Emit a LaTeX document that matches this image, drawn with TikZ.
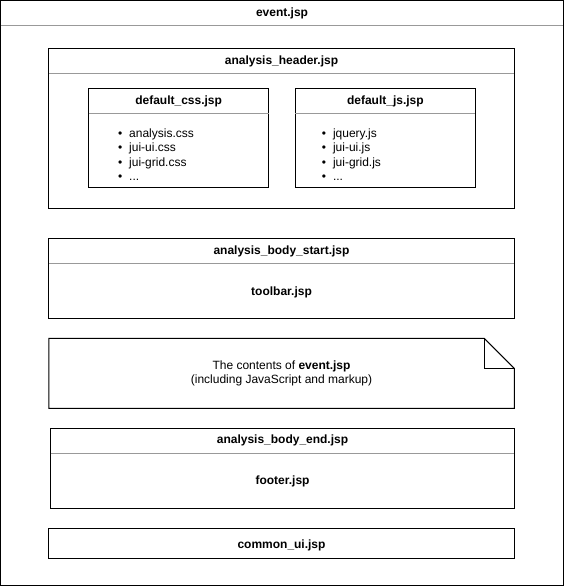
\documentclass[tikz,border=0pt]{standalone}
\usepackage{fontspec}
\setmainfont{Liberation Sans}
\tikzset{every picture/.style={line width=0.75pt}}
\tikzset{
  jspbox/.style={draw, rectangle, inner sep=0pt, outer sep=0pt, anchor=north west},
  jsptitle/.style={inner sep=0.75pt, font=\bfseries},
  divider/.style={draw={rgb, 255:red, 153; green, 153; blue, 153}},
  filelist/.style={inner sep=0pt, anchor=base west, align=left}
}
\newcommand{\jspitem}[1]{\makebox[8.3pt][l]{\textbullet}#1}

\begin{document}
\begin{tikzpicture}[x=0.75pt,y=0.75pt,yscale=-1,xscale=1]
    \fontsize{9pt}{10.9pt}\selectfont
    \useasboundingbox (-0.8,-0.8) rectangle (563.8,585.8);

    %Outer page [id:event]
    \node [jspbox, minimum width=422.25pt, minimum height=438.75pt] (event) at (0,0) {};
    \draw [divider] ([yshift=18.75pt]event.north west) -- ([yshift=18.75pt]event.north east) ;
    \node [jsptitle] (eventtitle) at ([yshift=9.4pt]event.north) {event.jsp};

    %Header include [id:header]
    \node [jspbox, minimum width=349.5pt, minimum height=120pt] (header) at (48,48) {};
    \draw [divider] ([yshift=18.75pt]header.north west) -- ([yshift=18.75pt]header.north east) ;
    \node [jsptitle] (headertitle) at ([yshift=9.4pt]header.north) {analysis\_header.jsp};

    %CSS include [id:css]
    \node [jspbox, minimum width=135pt, minimum height=74.25pt] (css) at (88,88) {};
    \draw [divider] ([yshift=18.75pt]css.north west) -- ([yshift=18.75pt]css.north east) ;
    \node [jsptitle] (csstitle) at ([yshift=9.4pt]css.north) {default\_css.jsp};
    \node [filelist] (csslist) at (117,180) {\jspitem{analysis.css}\\ \jspitem{jui-ui.css}\\ \jspitem{jui-grid.css}\\ \jspitem{...}};

    %JS include [id:js]
    \node [jspbox, minimum width=135pt, minimum height=74.25pt] (js) at (295,88) {};
    \draw [divider] ([yshift=18.75pt]js.north west) -- ([yshift=18.75pt]js.north east) ;
    \node [jsptitle] (jstitle) at ([yshift=9.4pt]js.north) {default\_js.jsp};
    \node [filelist] (jslist) at (321,180) {\jspitem{jquery.js}\\ \jspitem{jui-ui.js}\\ \jspitem{jui-grid.js}\\ \jspitem{...}};

    %Body start [id:bodystart]
    \node [jspbox, minimum width=349.5pt, minimum height=60pt] (bodystart) at (48,238) {};
    \draw [divider] ([yshift=18.75pt]bodystart.north west) -- ([yshift=18.75pt]bodystart.north east) ;
    \node [jsptitle] (bodystarttitle) at ([yshift=9.4pt]bodystart.north) {analysis\_body\_start.jsp};
    \node [jsptitle] (toolbar) at (281,292) {toolbar.jsp};

    %Note [id:contents]
    \node [inner sep=0pt, outer sep=0pt, anchor=north west, minimum width=349.5pt, minimum height=52.5pt] (contents) at (48,338) {};
    \draw (contents.north west) -- ([xshift=-22.5pt]contents.north east) -- ([yshift=22.5pt]contents.north east) -- (contents.south east) -- (contents.south west) -- cycle ;
    \draw ([xshift=-22.5pt]contents.north east) |- ([yshift=22.5pt]contents.north east) ;
    \node [inner sep=0.75pt, align=center] (contentstext) at (281,373) {The contents of \textbf{event.jsp}\\(including JavaScript and markup)};

    %Body end [id:bodyend]
    \node [jspbox, minimum width=348pt, minimum height=60pt] (bodyend) at (50,428) {};
    \draw [divider] ([yshift=18.75pt]bodyend.north west) -- ([yshift=18.75pt]bodyend.north east) ;
    \node [jsptitle] (bodyendtitle) at ([yshift=9.4pt]bodyend.north) {analysis\_body\_end.jsp};
    \node [jsptitle] (footer) at (282,481) {footer.jsp};

    %Common ui [id:commonui]
    \node [jspbox, minimum width=349.5pt, minimum height=22.5pt] (commonui) at (48,528) {};
    \node [jsptitle] (commonuititle) at ([yshift=1.5pt]commonui.center) {common\_ui.jsp};

\end{tikzpicture}
\end{document}
